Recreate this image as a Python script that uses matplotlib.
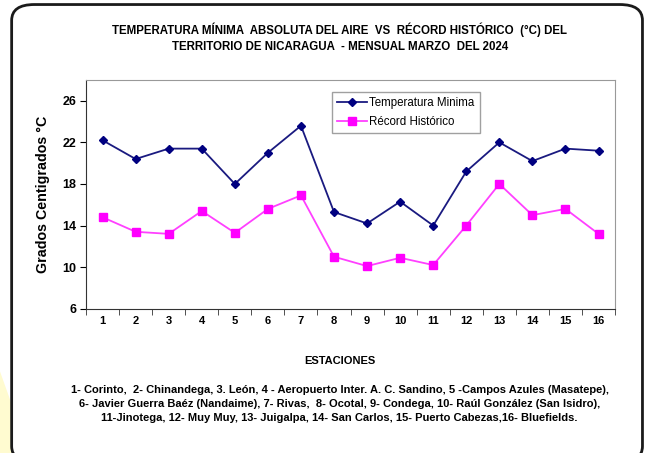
import matplotlib
matplotlib.use('Agg')
import matplotlib.pyplot as plt
from matplotlib.patches import FancyBboxPatch, Polygon
from matplotlib import font_manager

# datos
estaciones = list(range(1, 17))
temp_minima = [22.2, 20.4, 21.4, 21.4, 18.0, 21.0, 23.6, 15.3,
               14.2, 16.3, 14.0, 19.2, 22.0, 20.2, 21.4, 21.2]
record_historico = [14.8, 13.4, 13.2, 15.4, 13.3, 15.6, 16.9, 11.0,
                    10.1, 10.9, 10.2, 14.0, 18.0, 15.0, 15.6, 13.2]
y_ticks = [6, 10, 14, 18, 22, 26]

nombres = ("1- Corinto,  2- Chinandega, 3. León, 4 - Aeropuerto Inter. A. C. Sandino, 5 -Campos Azules (Masatepe),\n"
           "6- Javier Guerra Baéz (Nandaime), 7- Rivas,  8- Ocotal, 9- Condega, 10- Raúl González (San Isidro),\n"
           "11-Jinotega, 12- Muy Muy, 13- Juigalpa, 14- San Carlos, 15- Puerto Cabezas,16- Bluefields.")

installed = {f.name for f in font_manager.fontManager.ttflist}
fam = 'Liberation Sans Narrow' if 'Liberation Sans Narrow' in installed else 'Liberation Sans'
plt.rcParams['font.family'] = [fam, 'DejaVu Sans']

fig = plt.figure(figsize=(6.47, 4.53), dpi=100)

# fondo amarillo tenue a la izquierda
fig.patches.append(Polygon([[0, 0], [0.02, 0], [0.02, 0.1], [0, 0.18]], closed=True,
                           transform=fig.transFigure, facecolor='#fffbd0', edgecolor='none'))
# marco redondeado
fig.patches.append(FancyBboxPatch((0.018, -0.02), 0.975, 1.01, boxstyle='round,pad=0,rounding_size=0.035',
                                  transform=fig.transFigure, facecolor='none', edgecolor='#1a1a1a',
                                  linewidth=2))

ax = fig.add_axes([0.133, 0.3185, 0.8176, 0.5049])
ax.plot(estaciones, temp_minima, color='#1a1a80', linewidth=1.3, marker='D', markersize=4.5,
        markerfacecolor='#000080', markeredgecolor='#000080', label='Temperatura Minima')
ax.plot(estaciones, record_historico, color='#ff40ff', linewidth=1.3, marker='s', markersize=6,
        markerfacecolor='#ff00ff', markeredgecolor='#ff00ff', label='Récord Histórico')

ax.set_xlim(0.5, 16.5)
ax.set_ylim(6, 28)
ax.set_yticks(y_ticks)
ax.set_xticks(estaciones)
ax.set_xticks([i + 0.5 for i in range(0, 17)], minor=True)
ax.tick_params(axis='x', which='major', length=0, pad=5, labelsize=8)
ax.tick_params(axis='x', which='minor', length=4, direction='out', color='#333333')
ax.tick_params(axis='y', length=4, direction='out', labelsize=9, pad=3)
for lbl in ax.get_xticklabels() + ax.get_yticklabels():
    lbl.set_fontweight('bold')
ax.spines['top'].set_color('#999999')
ax.spines['right'].set_color('#999999')
ax.spines['left'].set_color('#333333')
ax.spines['bottom'].set_color('#333333')

ax.set_ylabel('Grados Centigrados °C', fontsize=10.3, fontweight='bold', labelpad=9)

leg = ax.legend(loc='upper left', bbox_to_anchor=(0.465, 0.948), borderaxespad=0, fancybox=False,
                edgecolor='#888888', fontsize=8.3, handlelength=2.6, borderpad=0.45,
                labelspacing=0.6, handletextpad=0.2)
leg.get_frame().set_linewidth(1)

fig.text(0.525, 0.916, 'TEMPERATURA MÍNIMA  ABSOLUTA DEL AIRE  VS  RÉCORD HISTÓRICO  (°C) DEL\n'
         'TERRITORIO DE NICARAGUA  - MENSUAL MARZO  DEL 2024',
         ha='center', va='center', fontsize=8.3, fontweight='bold', linespacing=1.45)
fig.text(0.525, 0.203, 'ESTACIONES', ha='center', va='center', fontsize=8, fontweight='bold')
fig.text(0.525, 0.108, nombres, ha='center', va='center', fontsize=8, fontweight='bold',
         linespacing=1.5)

plt.savefig('out.png', dpi=100)
